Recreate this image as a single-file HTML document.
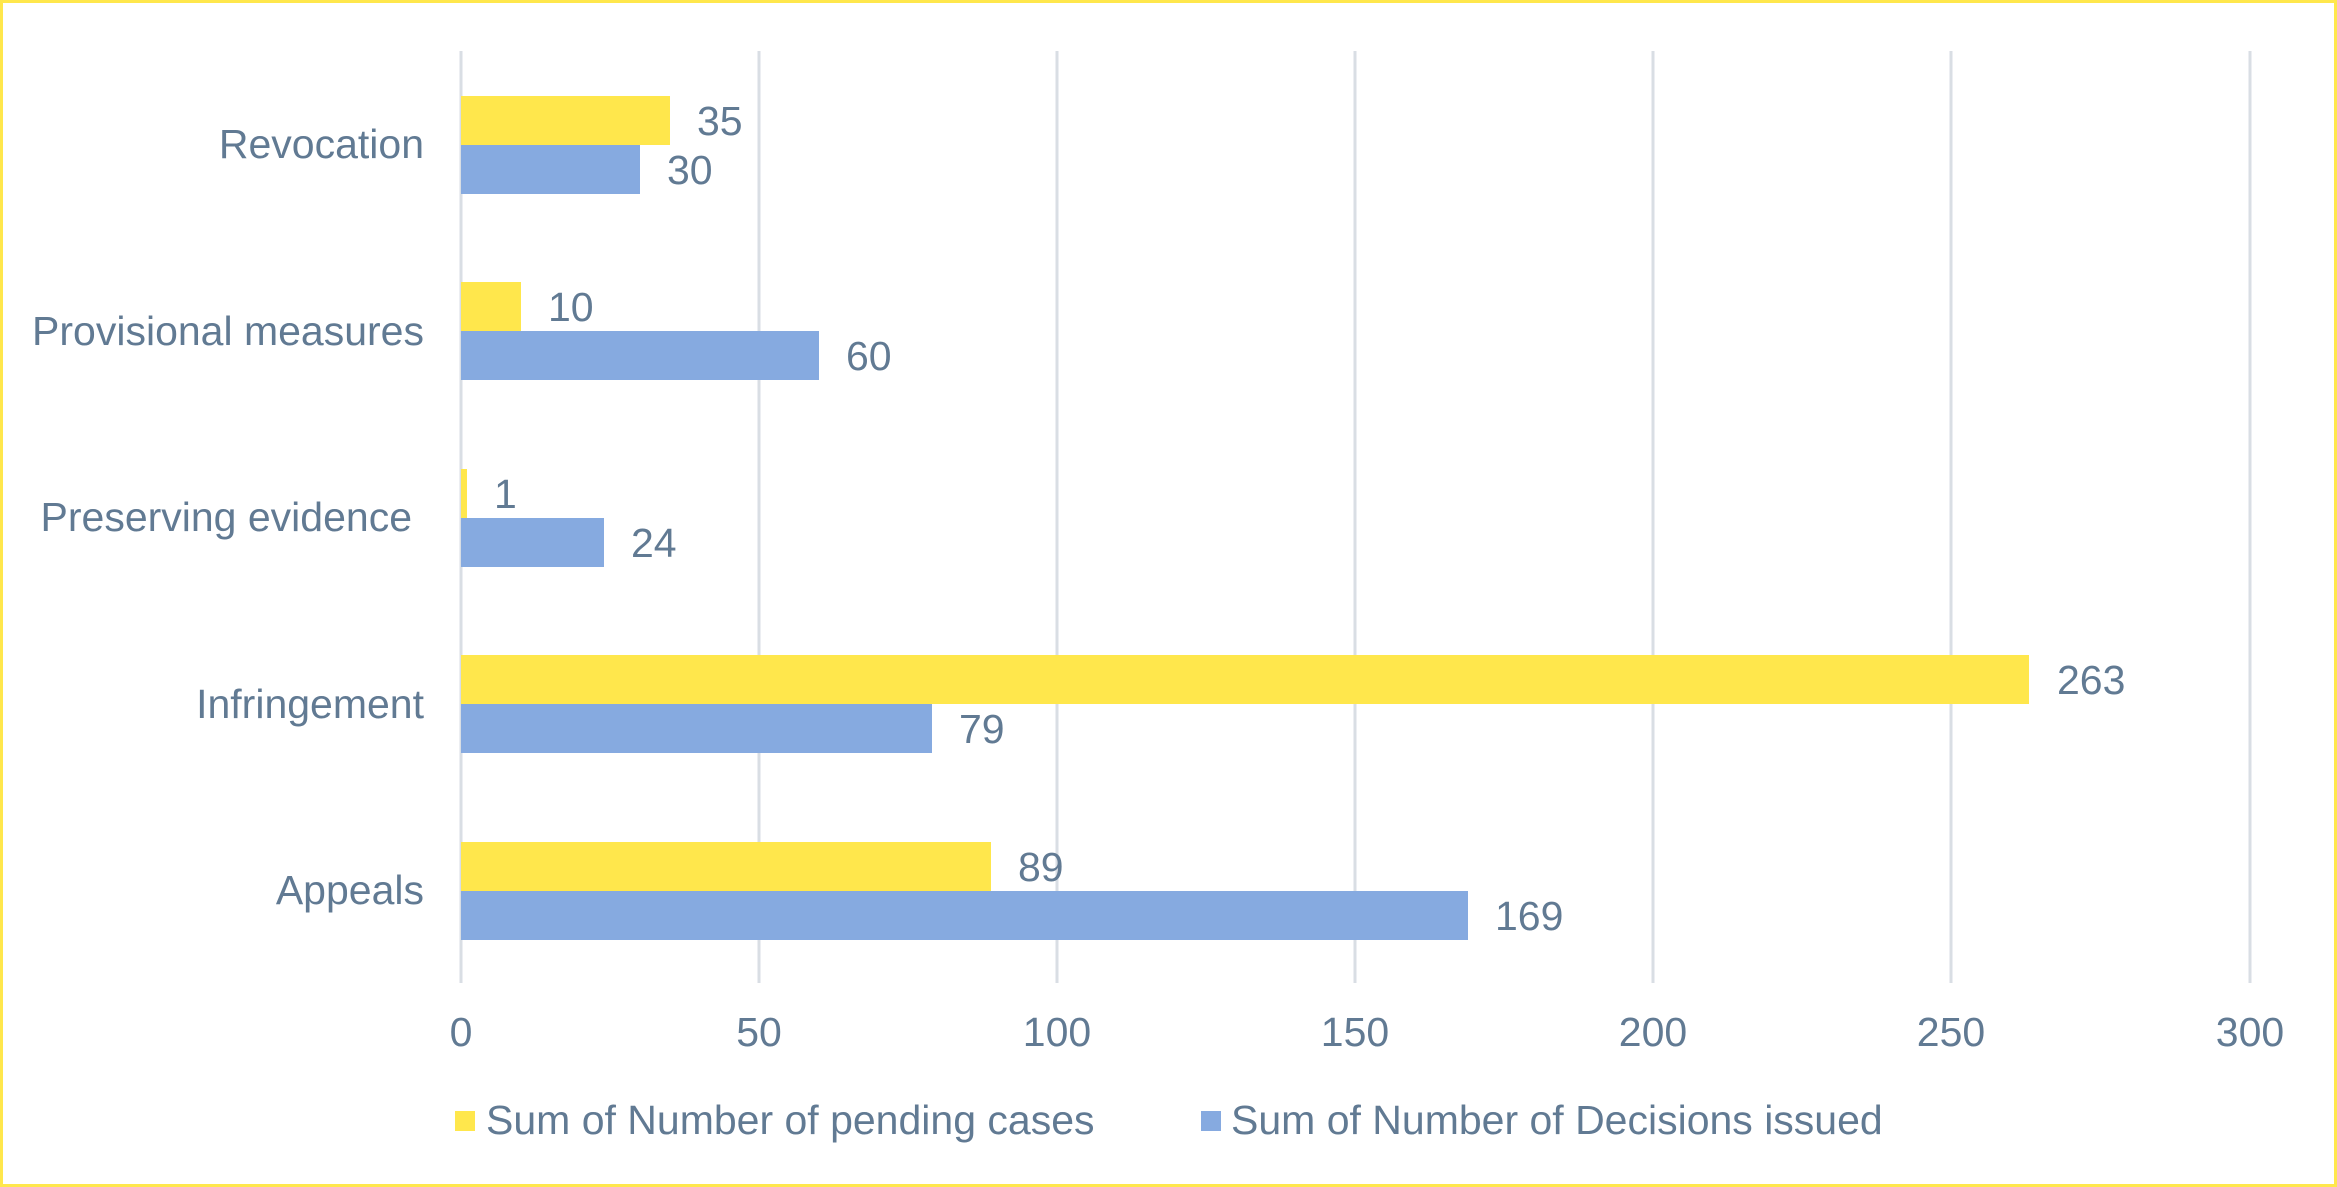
<!DOCTYPE html>
<html><head><meta charset="utf-8"><style>
html,body{margin:0;padding:0;background:#fff}
svg{display:block}
text{font-family:"Liberation Sans",Arial,sans-serif;fill:#617a93}
</style></head><body>
<svg width="2337" height="1187" viewBox="0 0 2337 1187" xmlns="http://www.w3.org/2000/svg">
<rect x="1.5" y="1.5" width="2334" height="1184" fill="#fff" stroke="#FFE74C" stroke-width="3"/>
<g stroke="#d9dee4" stroke-width="3">
<line x1="461" y1="51" x2="461" y2="983"/>
<line x1="759" y1="51" x2="759" y2="983"/>
<line x1="1057" y1="51" x2="1057" y2="983"/>
<line x1="1355" y1="51" x2="1355" y2="983"/>
<line x1="1653" y1="51" x2="1653" y2="983"/>
<line x1="1951" y1="51" x2="1951" y2="983"/>
<line x1="2250" y1="51" x2="2250" y2="983"/>
</g>
<g font-size="41" text-anchor="middle">
<text x="461" y="1046">0</text>
<text x="759" y="1046">50</text>
<text x="1057" y="1046">100</text>
<text x="1355" y="1046">150</text>
<text x="1653" y="1046">200</text>
<text x="1951" y="1046">250</text>
<text x="2250" y="1046">300</text>
</g>
<g fill="#FFE74C">
<rect x="461" y="96" width="209" height="49"/>
<rect x="461" y="282" width="60" height="49"/>
<rect x="461" y="469" width="6" height="49"/>
<rect x="461" y="655" width="1568" height="49"/>
<rect x="461" y="842" width="530" height="49"/>
</g>
<g fill="#86AAE0">
<rect x="461" y="145" width="179" height="49"/>
<rect x="461" y="331" width="358" height="49"/>
<rect x="461" y="518" width="143" height="49"/>
<rect x="461" y="704" width="471" height="49"/>
<rect x="461" y="891" width="1007" height="49"/>
</g>
<g font-size="41">
<text x="697" y="135">35</text>
<text x="667" y="184">30</text>
<text x="548" y="321">10</text>
<text x="846" y="370">60</text>
<text x="494" y="508">1</text>
<text x="631" y="557">24</text>
<text x="2057" y="694">263</text>
<text x="959" y="743">79</text>
<text x="1018" y="881">89</text>
<text x="1495" y="930">169</text>
</g>
<g font-size="41" text-anchor="end">
<text x="424" y="158">Revocation</text>
<text x="424" y="345">Provisional measures</text>
<text x="412" y="531">Preserving evidence</text>
<text x="424" y="718">Infringement</text>
<text x="424" y="904">Appeals</text>
</g>
<rect x="455" y="1111" width="20" height="20" fill="#FFE74C"/>
<text x="486" y="1134" font-size="41">Sum of Number of pending cases</text>
<rect x="1201" y="1111" width="20" height="20" fill="#86AAE0"/>
<text x="1231" y="1134" font-size="41">Sum of Number of Decisions issued</text>
</svg>
</body></html>
